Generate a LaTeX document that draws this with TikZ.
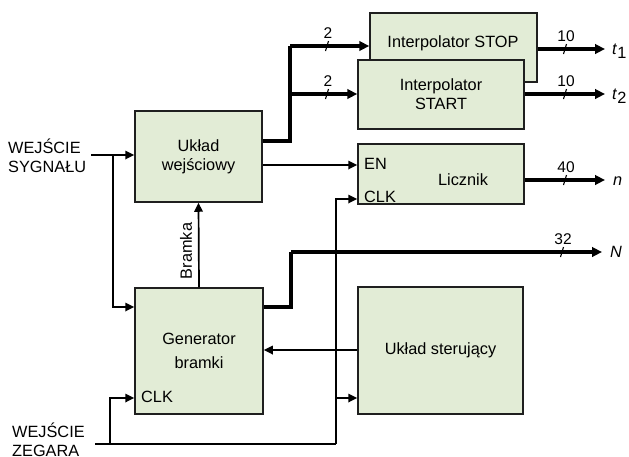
\documentclass[tikz,border=0pt]{standalone}
\usepackage{fontspec}
\setmainfont{Liberation Sans}
\usetikzlibrary{arrows.meta,calc}
\definecolor{boxfill}{RGB}{226,236,214}
\begin{document}
\begin{tikzpicture}[x=1pt,y=-1pt,
  box/.style={draw=black!88, line width=1.5pt, fill=boxfill, align=center, inner sep=0pt, font=\fontsize{16.3}{19}\selectfont},
  thinl/.style={line width=1.7pt},
  thickl/.style={line width=3.3pt},
  arr/.style={-{Triangle[length=9pt,width=8.5pt]}},
  arrb/.style={-{Triangle[length=10pt,width=9.5pt]}},
  lbl/.style={font=\fontsize{16.3}{19}\selectfont, inner sep=0pt, align=left},
  num/.style={font=\fontsize{15.5}{17}\selectfont, inner sep=0pt},
  slashl/.style={line width=1.1pt}]
\useasboundingbox (0,0) rectangle (629,456);

% boxes
\node[box, minimum width=127pt, minimum height=91pt] (uw) at (198.5,156.5) {Układ\\wejściowy};
\node[box, minimum width=167pt, minimum height=69pt] (stop) at (453.5,47.5) {};
\node[lbl] (stoptext) at (453,43) {Interpolator STOP};
\node[box, minimum width=166pt, minimum height=69pt] (start) at (441,94.5) {Interpolator\\START};
\node[box, minimum width=166pt, minimum height=60pt] (lic) at (441,174) {};
\node[lbl] (lictext) at (463,180) {Licznik};
\node[lbl, anchor=west] (en) at (364,164) {EN};
\node[lbl, anchor=west] (licclk) at (364,197) {CLK};
\node[box, minimum width=128pt, minimum height=126pt] (gen) at (199,351) {Generator\\[5pt]bramki};
\node[lbl, anchor=west] (genclk) at (141,397) {CLK};
\node[box, minimum width=165pt, minimum height=127pt] (ster) at (440.5,350.5) {Układ sterujący};

% outside labels
\node[lbl, anchor=west] (sygnal) at (8,156) {WEJŚCIE\\SYGNAŁU};
\node[lbl, anchor=west] (zegar) at (12,440) {WEJŚCIE\\ZEGARA};
\node[lbl, rotate=90] (bramka) at (186,251) {Bramka};
\node[lbl, anchor=west] (t1) at (612,51) {\textit{t}\raisebox{-4pt}{1}};
\node[lbl, anchor=west] (t2) at (612,96) {\textit{t}\raisebox{-4pt}{2}};
\node[lbl, anchor=west] (nn) at (613,181) {\textit{n}};
\node[lbl, anchor=west] (NN) at (610,252) {\textit{N}};

% coordinates
\coordinate (sygin) at (91,155);
\coordinate (j1) at (113,155);
\coordinate (zegin) at (95,444);
\coordinate (j2) at (110,444);
\coordinate (j3) at (336,444);
\coordinate (j4) at (336,398);
\coordinate (b1) at (290,141);
\coordinate (b2) at (290,94);
\coordinate (b3) at (290,46);
\coordinate (g1) at (291,307);
\coordinate (g2) at (291,252);

% signal input
\draw[thinl, arr] (sygin) -- (uw.west |- sygin);
\draw[thinl, arr] (j1) |- (gen.west |- 0,307);
% bramka
\draw[thinl, arr] (gen.north) -- (uw.south);
% thick bus to interpolators
\draw[thickl] (uw.east |- b1) -- (b1) -- (b3);
\draw[thickl, arrb] (b3) -- (stop.west |- b3);
\draw[thickl, arrb] (b2) -- (start.west |- b2);
\draw[slashl] (327,46) ++(-1.5,5) -- ++(3,-10);
\node[num] (n2a) at (328,33) {2};
\draw[slashl] (327,94) ++(-1.5,5) -- ++(3,-10);
\node[num] (n2b) at (328,81) {2};
% interpolator outputs
\draw[thickl, arrb] (stop.east |- 0,49) -- (605,49);
\draw[slashl] (565,49) ++(-1.5,5) -- ++(3,-10);
\node[num] (n10a) at (566,36) {10};
\draw[thickl, arrb] (start.east |- 0,94) -- (605,94);
\draw[slashl] (565,94) ++(-1.5,5) -- ++(3,-10);
\node[num] (n10b) at (566,81) {10};
% EN
\draw[thinl, arr] (uw.east |- 0,165) -- (lic.west |- 0,165);
% licznik output
\draw[thickl, arrb] (lic.east |- 0,180) -- (605,180);
\draw[slashl] (565,180) ++(-1.5,5) -- ++(3,-10);
\node[num] (n40) at (566,167) {40};
% generator output
\draw[thickl] (gen.east |- g1) -- (g1) -- (g2);
\draw[thickl, arrb] (g2) -- (602,252);
\draw[slashl] (562,252) ++(-1.5,5) -- ++(3,-10);
\node[num] (n32) at (563,239) {32};
% clock
\draw[thinl] (zegin) -- (j3);
\draw[thinl, arr] (j3) |- (lic.west |- 0,199);
\draw[thinl, arr] (j2) |- (gen.west |- 0,398);
\draw[thinl, arr] (j4) -- (ster.west |- j4);
% control to generator
\draw[thinl, arr] (ster.west |- 0,350) -- (gen.east |- 0,350);
\end{tikzpicture}
\end{document}
